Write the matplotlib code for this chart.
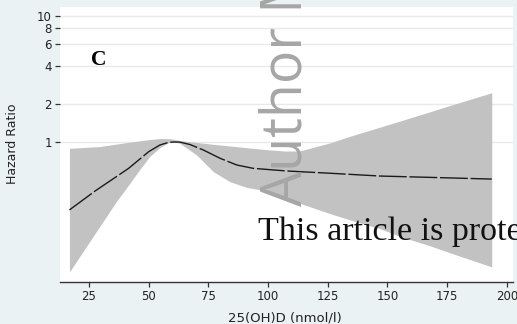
import numpy as np
import matplotlib
matplotlib.use("Agg")
import matplotlib.pyplot as plt

# fitted spline: 25(OH)D (nmol/l) vs hazard ratio
x_fit = [16.8, 27.6, 41.6, 50.0, 54.7, 58.4, 61.0, 63.1, 67.3, 72.9, 79.9,
         86.9, 93.8, 107.8, 126.0, 146.9, 167.9, 193.7]
hr_fit = [0.289, 0.409, 0.618, 0.838, 0.947, 0.995, 1.0, 0.998, 0.955, 0.864,
          0.743, 0.657, 0.618, 0.589, 0.565, 0.537, 0.524, 0.508]

# confidence band
x_ci = [16.8, 29.6, 36.6, 41.6, 46.4, 50.6, 54.7, 58.4, 61.0, 63.1, 70.1,
        77.1, 84.1, 91.1, 99.4, 107.1, 113.4, 126.0, 134.3, 146.9, 155.3,
        167.9, 176.2, 193.7]
hr_lo = [0.093, 0.215, 0.340, 0.456, 0.611, 0.774, 0.904, 0.991, 1.0, 0.976,
         0.788, 0.581, 0.484, 0.436, 0.409, 0.366, 0.326, 0.270, 0.241, 0.205,
         0.178, 0.150, 0.132, 0.102]
hr_hi = [0.891, 0.921, 0.964, 0.994, 1.022, 1.047, 1.066, 1.064, 1.047, 1.028,
         0.991, 0.959, 0.930, 0.901, 0.870, 0.848, 0.850, 0.985, 1.110, 1.313,
         1.468, 1.740, 1.949, 2.462]

xticks = [25, 50, 75, 100, 125, 150, 175, 200]
yticks = [1, 2, 4, 6, 8, 10]

bg = "#eaf2f3"
fig = plt.figure(figsize=(5.17, 3.24), dpi=100, facecolor=bg)
ax = fig.add_axes([60/517, 1-282/324, 453/517, 275/324])
ax.set_facecolor("white")

ax.fill_between(x_ci, hr_lo, hr_hi, color="#c2c2c2", linewidth=0, zorder=2)
ax.plot(x_fit, hr_fit, color="#1a1a1a", linewidth=1.0,
        dashes=(20, 2), zorder=3)

ax.set_yscale("log")
ax.set_xlim(12.85, 202.6)
ax.set_ylim(0.0774, 11.8)
ax.set_yticks(yticks)
ax.set_yticklabels([str(t) for t in yticks])
ax.minorticks_off()
ax.set_xticks(xticks)
ax.set_xticklabels([str(t) for t in xticks])
ax.grid(axis="y", color="#e6eaeb", linewidth=1.0, zorder=1)
ax.set_axisbelow(True)

for s in ["top", "right", "left"]:
    ax.spines[s].set_visible(False)
ax.spines["bottom"].set_color("#333333")
ax.spines["bottom"].set_linewidth(1.0)

ax.tick_params(axis="x", length=3.6, width=0.9, color="#333333", pad=2.4,
               labelsize=8.5, labelcolor="#222222")
ax.tick_params(axis="y", length=3.6, width=0.9, color="#333333", pad=2.2,
               labelsize=8.5, labelcolor="#222222")

ax.set_ylabel("Hazard Ratio", fontsize=9, color="#222222")
ax.yaxis.set_label_coords(-0.0905, 0.502)
ax.set_xlabel("25(OH)D (nmol/l)", fontsize=9.5, color="#222222", va="top")
ax.xaxis.set_label_coords(0.497, -0.109)

fig.text(91/517, 1-65/324, "C", fontsize=15.5, fontweight="bold",
         family="Liberation Serif", ha="left", va="baseline")

# watermarks
fig.text(302/517, 1-206/324, "Author Manuscript", rotation=90,
         rotation_mode="anchor", ha="left", va="baseline",
         fontsize=40, family="Open Sans", color="#a6a6a6", zorder=10)
fig.text(258/517, 1-240/324, "This article is protected by copyright. All rights reserved",
         ha="left", va="baseline", fontsize=24.5, family="Liberation Serif",
         color="#111111", zorder=10)

fig.savefig("out.png", dpi=100, facecolor=bg)
